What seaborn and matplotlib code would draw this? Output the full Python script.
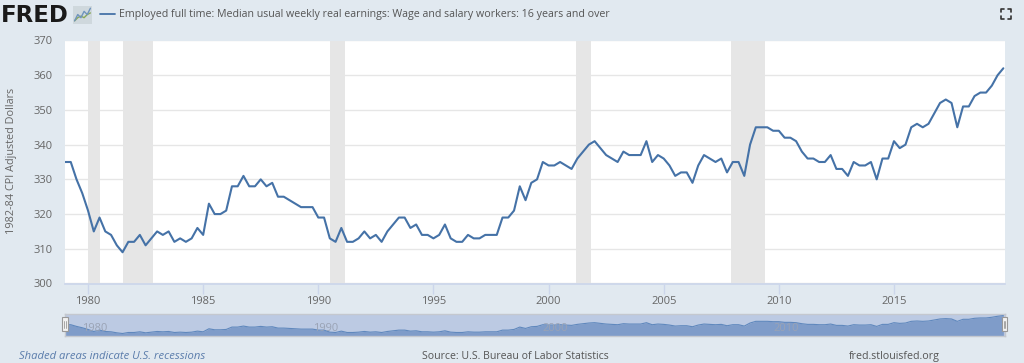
import pandas as pd
import seaborn as sns
import matplotlib.pyplot as plt

# quarterly values, 1979 Q1 to 2019 Q4
earnings = [335, 335, 330, 326,
            321, 315, 319, 315,
            314, 311, 309, 312,
            312, 314, 311, 313,
            315, 314, 315, 312,
            313, 312, 313, 316,
            314, 323, 320, 320,
            321, 328, 328, 331,
            328, 328, 330, 328,
            329, 325, 325, 324,
            323, 322, 322, 322,
            319, 319, 313, 312,
            316, 312, 312, 313,
            315, 313, 314, 312,
            315, 317, 319, 319,
            316, 317, 314, 314,
            313, 314, 317, 313,
            312, 312, 314, 313,
            313, 314, 314, 314,
            319, 319, 321, 328,
            324, 329, 330, 335,
            334, 334, 335, 334,
            333, 336, 338, 340,
            341, 339, 337, 336,
            335, 338, 337, 337,
            337, 341, 335, 337,
            336, 334, 331, 332,
            332, 329, 334, 337,
            336, 335, 336, 332,
            335, 335, 331, 340,
            345, 345, 345, 344,
            344, 342, 342, 341,
            338, 336, 336, 335,
            335, 337, 333, 333,
            331, 335, 334, 334,
            335, 330, 336, 336,
            341, 339, 340, 345,
            346, 345, 346, 349,
            352, 353, 352, 345,
            351, 351, 354, 355,
            355, 357, 360, 362]
years = [1979 + i / 4 for i in range(len(earnings))]

recession_start = [1980.0, 1981.5, 1990.5, 2001.17, 2007.92]
recession_end = [1980.5, 1982.83, 1991.17, 2001.83, 2009.42]

y_ticks = [300, 310, 320, 330, 340, 350, 360, 370]
x_ticks = [1980, 1985, 1990, 1995, 2000, 2005, 2010, 2015]
nav_ticks = [1980, 1990, 2000, 2010]

icon_x = [0, 1, 2, 3, 4, 5]
icon_green = [1, 2, 2.5, 2, 3, 3.5]
icon_blue = [1, 3, 2, 4, 3, 5]

title = 'Employed full time: Median usual weekly real earnings: Wage and salary workers: 16 years and over'

bg = '#e1e9f0'
line_color = '#4572a7'
text_color = '#666666'
W, H = 1024, 363

sns.set_theme(style='white')
plt.rcParams['font.family'] = ['Open Sans', 'DejaVu Sans']

df = pd.DataFrame({'year': years, 'earnings': earnings})

fig = plt.figure(figsize=(10.24, 3.63), dpi=100, facecolor=bg)


def box(left, top, right, bottom):
    return [left / W, 1 - bottom / H, (right - left) / W, (bottom - top) / H]


# main chart
ax = fig.add_axes(box(65, 40.5, 1004.5, 283.5))
ax.set_facecolor('white')
for a, b in zip(recession_start, recession_end):
    ax.axvspan(a, b, color='#e6e6e6', lw=0, zorder=1.5)
sns.lineplot(data=df, x='year', y='earnings', ax=ax, color=line_color, lw=1.5, zorder=3)
ax.set_xlim(1979, 2019.8)
ax.set_ylim(300, 370)
ax.set_yticks(y_ticks)
ax.set_xticks(x_ticks)
ax.grid(axis='y', color='#e6e6e6', lw=1)
ax.set_axisbelow(True)
for s in ['top', 'left', 'right']:
    ax.spines[s].set_visible(False)
ax.spines['bottom'].set_color('#ccd6eb')
ax.tick_params(axis='x', length=7, width=1, color='#ccd6eb', labelsize=8, labelcolor=text_color, pad=2, bottom=True)
ax.tick_params(axis='y', length=0, labelsize=8, labelcolor=text_color, pad=9)
ax.set_xlabel('')
ax.set_ylabel('')
fig.text(12 / W, 1 - 161 / H, '1982-84 CPI Adjusted Dollars', rotation=90, ha='center', va='center',
         fontsize=7.8, color=text_color)

# navigator
nav = fig.add_axes(box(65, 314, 1004.5, 335.7))
nav.set_facecolor('#bccae3')
nav.fill_between(years, 300, earnings, color='#7f9cc9', lw=0, zorder=2)
nav.plot(years, earnings, color='#6088bd', lw=0.8, zorder=3)
nav.set_xlim(1979, 2019.8)
nav.set_ylim(302.5, 366.7)
nav.set_xticks([])
nav.set_yticks([])
for s in nav.spines.values():
    s.set_color('#c4c8cf')
    s.set_linewidth(1)
for t in nav_ticks:
    nav.text(t + 0.3, 0.32, str(t), transform=nav.get_xaxis_transform(), ha='center', va='center',
             fontsize=8, color='#9aa3b5', zorder=4)
for h in [1979, 2019.8]:
    handle = plt.Rectangle((h - 0.13, 0.2), 0.26, 0.65, transform=nav.get_xaxis_transform(), clip_on=False,
                           facecolor='#f2f2f2', edgecolor='#999999', lw=0.8, zorder=6)
    nav.add_patch(handle)
    for g in [-0.03, 0.03]:
        nav.plot([h + g, h + g], [0.35, 0.7], transform=nav.get_xaxis_transform(), color='#999999', lw=0.6,
                 clip_on=False, zorder=7)

# header
fig.text(1 / W, 1 - 15 / H, 'FRED', fontsize=16.5, fontweight='bold', family='DejaVu Sans', color='#1a1a1a',
         va='center', ha='left')
icon = fig.add_axes(box(73, 6, 92, 24))
icon.set_facecolor('#cfd8dd')
sns.lineplot(x=icon_x, y=icon_green, ax=icon, color='#8aa85a', lw=1)
sns.lineplot(x=icon_x, y=icon_blue, ax=icon, color='#6f94bd', lw=1)
icon.set_xticks([])
icon.set_yticks([])
icon.set_xlabel('')
icon.set_ylabel('')
icon.set_xlim(-0.5, 5.5)
icon.set_ylim(0, 5.7)
for s in icon.spines.values():
    s.set_visible(False)

fig.add_artist(plt.Line2D([100 / W, 114.5 / W], [1 - 14 / H, 1 - 14 / H], color=line_color, lw=1.3))
fig.text(119 / W, 1 - 14.5 / H, title, fontsize=7.65, color='#555555', va='center', ha='left')

# full screen button
for cx, cy, dx, dy in [(1000.5, 8.5, 1, 1), (1010.5, 8.5, -1, 1), (1000.5, 18.5, 1, -1), (1010.5, 18.5, -1, -1)]:
    fig.add_artist(plt.Line2D([(cx + 3 * dx) / W, cx / W, cx / W],
                              [1 - cy / H, 1 - cy / H, 1 - (cy + 3 * dy) / H], color='#333333', lw=1.2))

# footer
fig.text(19 / W, 1 - 356.5 / H, 'Shaded areas indicate U.S. recessions', fontsize=8.1, style='italic',
         color='#5a7cab', va='center', ha='left')
fig.text(422 / W, 1 - 356.5 / H, 'Source: U.S. Bureau of Labor Statistics', fontsize=7.6, color='#555555',
         va='center', ha='left')
fig.text(849 / W, 1 - 356.5 / H, 'fred.stlouisfed.org', fontsize=7.7, color='#555555', va='center', ha='left')

plt.savefig('out.png', dpi=100, facecolor=bg)
